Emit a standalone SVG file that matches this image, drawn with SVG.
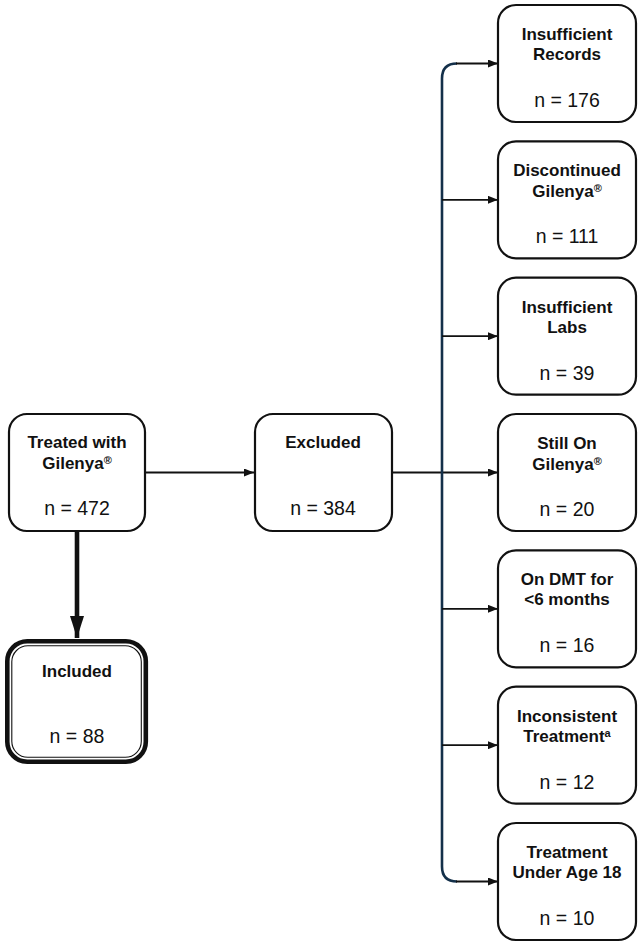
<svg xmlns="http://www.w3.org/2000/svg" width="641" height="946" viewBox="0 0 641 946">
  <style>
    .box { fill: #fff; stroke: #111; stroke-width: 2.2; }
    .t { font-family: "Liberation Sans", Arial, Helvetica, sans-serif; font-size: 17px; fill: #111; text-anchor: middle; }
    .b { font-weight: bold; }
    .n { font-size: 19.5px; }
    .sup { font-size: 11px; font-weight: bold; }
    .edge { fill: none; stroke: #111; stroke-width: 1.8; }
    .bus { fill: none; stroke: #14304a; stroke-width: 2.6; }
  </style>
  <defs>
    <marker id="arrow" viewBox="0 0 10 8" refX="10" refY="4" markerWidth="10" markerHeight="8" markerUnits="userSpaceOnUse" orient="auto">
      <path d="M0,0 L10,4 L0,8 Z" fill="#111"/>
    </marker>
    <marker id="arrowBig" viewBox="0 0 22 14" refX="22" refY="7" markerWidth="22" markerHeight="14" markerUnits="userSpaceOnUse" orient="auto">
      <path d="M0,0 L22,7 L0,14 Z" fill="#111"/>
    </marker>
  </defs>

  <!-- connectors -->
  <g id="connectors">
    <line class="edge" x1="145" y1="472.5" x2="254" y2="472.5" marker-end="url(#arrow)"/>
    <line x1="77" y1="531" x2="77" y2="638" stroke="#111" stroke-width="4.6" marker-end="url(#arrowBig)"/>
    <line class="edge" x1="392" y1="472.5" x2="498" y2="472.5" marker-end="url(#arrow)"/>
    <!-- vertical distribution bus -->
    <path class="bus" d="M457,63.5 Q442,63.5 442,78.5 L442,866.5 Q442,881.5 457,881.5"/>
    <line class="edge" x1="456" y1="63.5" x2="498" y2="63.5" marker-end="url(#arrow)"/>
    <line class="edge" x1="442" y1="199.8" x2="498" y2="199.8" marker-end="url(#arrow)"/>
    <line class="edge" x1="442" y1="336.2" x2="498" y2="336.2" marker-end="url(#arrow)"/>
    <line class="edge" x1="442" y1="608.8" x2="498" y2="608.8" marker-end="url(#arrow)"/>
    <line class="edge" x1="442" y1="745.2" x2="498" y2="745.2" marker-end="url(#arrow)"/>
    <line class="edge" x1="456" y1="881.5" x2="498" y2="881.5" marker-end="url(#arrow)"/>
  </g>

  <g id="treated">
    <rect class="box" x="9" y="414" width="136" height="117" rx="18"/>
    <text class="t b" x="77" y="448">Treated with</text>
    <text class="t b" x="77" y="469">Gilenya<tspan class="sup" dy="-5">®</tspan></text>
    <text class="t n" x="77" y="515">n = 472</text>
  </g>

  <g id="excluded">
    <rect class="box" x="255" y="414" width="137" height="117" rx="18"/>
    <text class="t b" x="323" y="448">Excluded</text>
    <text class="t n" x="323" y="515">n = 384</text>
  </g>

  <g id="included">
    <rect x="7.3" y="641.3" width="138.5" height="120.5" rx="20" fill="#fff" stroke="#111" stroke-width="4.6"/>
    <rect x="11.8" y="645.8" width="129.5" height="111.5" rx="16" fill="none" stroke="#111" stroke-width="1.1"/>
    <text class="t b" x="77" y="677">Included</text>
    <text class="t n" x="77" y="743">n = 88</text>
  </g>

  <g id="insufficient-records">
    <rect class="box" x="498" y="5" width="138" height="117" rx="18"/>
    <text class="t b" x="567" y="40">Insufficient</text>
    <text class="t b" x="567" y="60">Records</text>
    <text class="t n" x="567" y="107">n = 176</text>
  </g>

  <g id="discontinued">
    <rect class="box" x="498" y="141.3" width="138" height="117" rx="18"/>
    <text class="t b" x="567" y="176.3">Discontinued</text>
    <text class="t b" x="567" y="197">Gilenya<tspan class="sup" dy="-5">®</tspan></text>
    <text class="t n" x="567" y="243.3">n = 111</text>
  </g>

  <g id="insufficient-labs">
    <rect class="box" x="498" y="277.7" width="138" height="117" rx="18"/>
    <text class="t b" x="567" y="312.7">Insufficient</text>
    <text class="t b" x="567" y="332.7">Labs</text>
    <text class="t n" x="567" y="379.7">n = 39</text>
  </g>

  <g id="still-on">
    <rect class="box" x="498" y="414" width="138" height="117" rx="18"/>
    <text class="t b" x="567" y="449">Still On</text>
    <text class="t b" x="567" y="469.5">Gilenya<tspan class="sup" dy="-5">®</tspan></text>
    <text class="t n" x="567" y="516">n = 20</text>
  </g>

  <g id="on-dmt">
    <rect class="box" x="498" y="550.3" width="138" height="117" rx="18"/>
    <text class="t b" x="567" y="585.3">On DMT for</text>
    <text class="t b" x="567" y="605.3">&lt;6 months</text>
    <text class="t n" x="567" y="652.3">n = 16</text>
  </g>

  <g id="inconsistent">
    <rect class="box" x="498" y="686.7" width="138" height="117" rx="18"/>
    <text class="t b" x="567" y="721.7">Inconsistent</text>
    <text class="t b" x="567" y="742.2">Treatment<tspan class="sup" dy="-5">a</tspan></text>
    <text class="t n" x="567" y="788.7">n = 12</text>
  </g>

  <g id="under-age">
    <rect class="box" x="498" y="823" width="138" height="117" rx="18"/>
    <text class="t b" x="567" y="858">Treatment</text>
    <text class="t b" x="567" y="878">Under Age 18</text>
    <text class="t n" x="567" y="925">n = 10</text>
  </g>
</svg>
